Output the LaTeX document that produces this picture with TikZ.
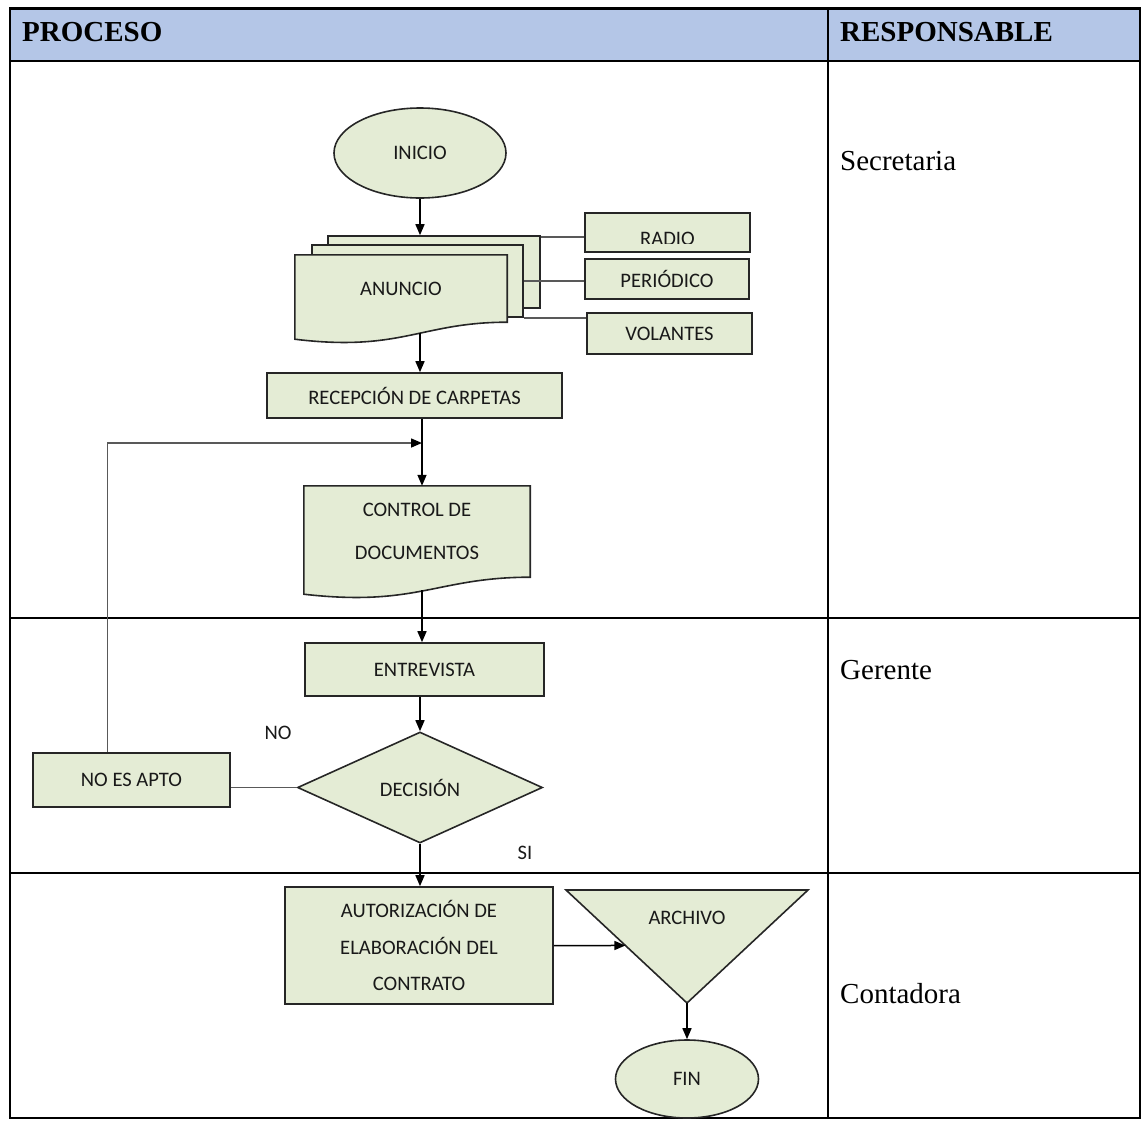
\documentclass[tikz,border=0pt]{standalone}
\usepackage{fontspec}
\setmainfont{Liberation Serif}
\newfontfamily\flowfont{Carlito}
\usetikzlibrary{shapes.geometric,arrows.meta,backgrounds,calc}

\definecolor{headblue}{HTML}{B4C6E7}
\definecolor{boxgreen}{HTML}{E4ECD5}
\definecolor{linkgray}{HTML}{595959}

\newcommand{\docoutline}[1]{%
  \filldraw[shapeline] (#1.north west) -- (#1.north east) -- (#1.south east)
    .. controls ([xshift=20pt]#1.south) and ([yshift=-30pt]#1.south)
    .. ([yshift=-17pt]#1.south west) -- cycle;}

\begin{document}
\begin{tikzpicture}[x=1pt,y=-1pt,
  >={Triangle[length=11pt,width=9pt]},
  tableline/.style={line width=2.2pt},
  celltext/.style={anchor=base west,inner sep=0pt,font=\fontsize{29}{34}\selectfont},
  headtext/.style={celltext,font=\fontsize{29}{34}\selectfont\bfseries},
  shapeline/.style={draw=black!85,line width=1.6pt,fill=boxgreen},
  flowtext/.style={font=\flowfont\fontsize{20.6}{25}\selectfont,inner sep=0pt,text=black!90},
  procbox/.style={shapeline,flowtext,rectangle},
  terminal/.style={shapeline,flowtext,ellipse},
  decisionbox/.style={shapeline,flowtext,diamond,aspect=2.2},
  docarea/.style={flowtext,rectangle,align=center},
  flowline/.style={line width=1.5pt},
  flowarrow/.style={flowline,->},
  sideline/.style={draw=linkgray,line width=1.5pt},
  looparrow/.style={sideline,-{Triangle[length=11pt,width=9pt,color=black]}}]
\useasboundingbox (0,0) rectangle (1141,1120);

% table
\fill[headblue] (10,8.5) rectangle (1140,61);
\draw[tableline] (10,8.5) rectangle (1140,1118);
\draw[tableline] (828,8.5) -- (828,1118);
\foreach \y in {61,618,873}
    \draw[tableline] (10,\y) -- (1140,\y);

\node[headtext] (proceso) at (22,41) {PROCESO};
\node[headtext] (responsable) at (840,41) {RESPONSABLE};
\node[celltext] (secretaria) at (840,170) {Secretaria};
\node[celltext] (gerente) at (840,679) {Gerente};
\node[celltext] (contadora) at (840,1003) {Contadora};

% flow
\node[terminal,minimum width=172,minimum height=90] (inicio) at (420,153) {INICIO};
\node[docarea,minimum width=212,minimum height=67] (anuncio) at (401,288.5) {ANUNCIO};
\node[docarea,minimum width=226,minimum height=91,font=\flowfont\fontsize{20.6}{43}\selectfont] (control) at (417,531.5) {CONTROL DE\\DOCUMENTOS};
\begin{scope}[on background layer]
    \node[procbox,minimum width=212,minimum height=72] (back) at (434,272) {};
    \node[procbox,minimum width=211,minimum height=72] (mid) at (417.5,281) {};
    \docoutline{anuncio}
    \docoutline{control}
\end{scope}

\node[procbox,minimum width=165,minimum height=39] (radio) at (667.5,232.5) {};
\begin{scope}
    \clip (radio.north west) rectangle ([yshift=9pt]radio.south east);
    \node[flowtext,anchor=base] (radiotext) at (667.5,245) {RADIO};
\end{scope}
\node[procbox,minimum width=164,minimum height=40] (periodico) at (667,279) {PERIÓDICO};
\node[procbox,minimum width=165,minimum height=41] (volantes) at (669.5,333.5) {VOLANTES};
\node[procbox,minimum width=295,minimum height=45] (recep) at (414.5,395.5) {RECEPCIÓN DE CARPETAS};
\node[procbox,minimum width=239,minimum height=53] (entrevista) at (424.5,669.5) {ENTREVISTA};
\node[decisionbox,minimum width=245,minimum height=111] (decision) at (420,787.5) {DECISIÓN};
\node[procbox,minimum width=197,minimum height=54] (noapto) at (131.5,780) {NO ES APTO};
\node[procbox,minimum width=268,minimum height=117,align=center,font=\flowfont\fontsize{20.6}{36.5}\selectfont] (autoriz) at (419,945.5) {AUTORIZACIÓN DE\\ELABORACIÓN DEL\\CONTRATO};

\coordinate (arctl) at (566,890);
\coordinate (arctr) at (808,890);
\coordinate (arcb) at (687,1003);
\filldraw[shapeline] (arctl) -- (arctr) -- (arcb) -- cycle;
\node[flowtext] (archivo) at (687,918) {ARCHIVO};
\node[terminal,minimum width=143,minimum height=78] (fin) at (687,1079) {FIN};

\node[flowtext] (nolabel) at (278,733) {NO};
\node[flowtext] (silabel) at (525,853) {SI};

% connectors
\draw[flowarrow] (inicio.south) -- (inicio.south |- back.north);
\coordinate (radiolink) at ([yshift=-2pt]back.north east);
\draw[sideline] (radiolink) -- (radiolink -| radio.west);
\draw[sideline] (mid.east) -- (mid.east -| periodico.west);
\draw[sideline] (mid.south east) -- (mid.south east -| volantes.west);
\draw[flowarrow] ([xshift=19pt,yshift=-11pt]anuncio.south) -- (inicio.south |- recep.north);

\coordinate (loopin) at (422,443);
\draw[flowline] (loopin |- recep.south) -- (loopin);
\draw[flowarrow] (loopin) -- (loopin |- control.north);
\draw[looparrow] ([xshift=-24pt]noapto.north) |- (loopin);
\draw[flowarrow] ([xshift=5pt,yshift=-13pt]control.south) -- (loopin |- entrevista.north);
\draw[flowarrow] (decision.north |- entrevista.south) -- (decision.north);
\draw[sideline] (decision.west) -- (decision.west -| noapto.east);
\draw[flowarrow] (decision.south) -- (decision.south |- autoriz.north);

\coordinate (archin) at ($(arctl)!0.491!(arcb)$);
\draw[flowarrow] (autoriz.east) -- (archin);
\draw[flowarrow] (arcb) -- (fin.north);
\end{tikzpicture}
\end{document}
